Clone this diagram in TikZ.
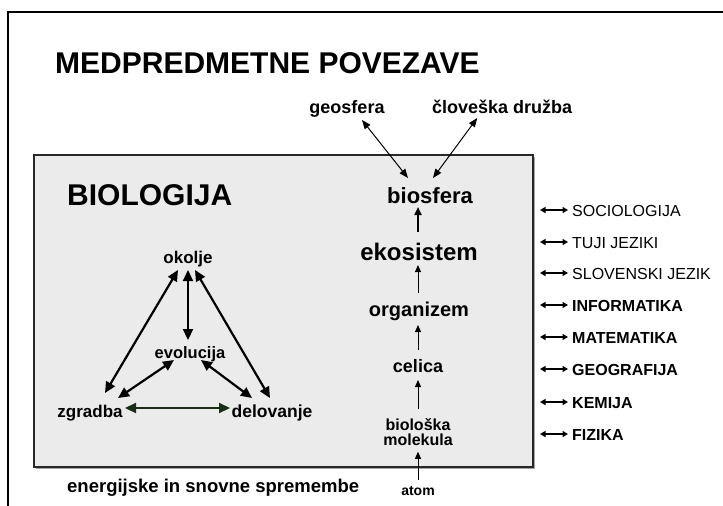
\documentclass[tikz,border=0pt]{standalone}
\usepackage{fontspec}
\setmainfont{Liberation Sans}
\usetikzlibrary{arrows.meta}
\definecolor{boxfill}{RGB}{235,235,235}
\definecolor{boxline}{RGB}{40,40,40}
\definecolor{darkgreen}{RGB}{25,45,25}
\begin{document}
\begin{tikzpicture}[x=1pt,y=-1pt,
  txt/.style={inner sep=0pt, anchor=base, font=\bfseries\fontsize{#1}{#1}\selectfont},
  rtxt/.style={inner sep=0pt, anchor=base west, font=#1\fontsize{16}{16}\selectfont},
  tri/.style={line width=2.2pt, {Triangle[length=11pt,width=10pt]}-{Triangle[length=11pt,width=10pt]}},
  thickup/.style={line width=2pt, -{Triangle[length=8pt,width=7pt]}},
  thinup/.style={line width=1pt, -{Triangle[length=7pt,width=6pt]}},
  thinboth/.style={line width=1pt, {Triangle[length=9pt,width=7pt]}-{Triangle[length=9pt,width=7pt]}},
  side/.style={line width=1.3pt, {Triangle[length=5.5pt,width=6pt]}-{Triangle[length=5.5pt,width=6pt]}}]
\useasboundingbox (0,0) rectangle (723,506);
% outer frame
\draw[line width=2.5pt] (8,506) -- (8,12) -- (723,12);
% title
\node[txt=30, anchor=base west] (title) at (55,73) {MEDPREDMETNE POVEZAVE};
% gray box
\fill[gray!70] (36,157) rectangle (535,469);
\draw[line width=1.8pt, draw=boxline, fill=boxfill] (34,155) rectangle (533,467);
\node[txt=30, anchor=base west] (biol) at (67,205) {BIOLOGIJA};
% triangle
\node[txt=17] (okolje) at (188,263) {okolje};
\node[txt=16.5] (evol) at (190,358) {evolucija};
\node[txt=17] (zgr) at (90,417) {zgradba};
\node[txt=17.5] (del) at (272,417) {delovanje};
\draw[tri] ([shift={(-10,7)}]okolje.base) -- ([shift={(15,-24)}]zgr.base);
\draw[tri] ([shift={(7,7)}]okolje.base) -- ([shift={(-2,-19)}]del.base);
\draw[tri] ([shift={(0,7)}]okolje.base) -- ([shift={(-2,-18)}]evol.base);
\draw[tri] ([shift={(-16,2)}]evol.base) -- ([shift={(28,-19)}]zgr.base);
\draw[tri] ([shift={(11,2)}]evol.base) -- ([shift={(-20,-19)}]del.base);
\draw[tri, draw=darkgreen] ([shift={(35,-9)}]zgr.base) -- ([shift={(-42,-9)}]del.base);
% chain
\node[txt=18] (geo) at (347,113) {geosfera};
\node[txt=18, anchor=base west] (clov) at (432,113) {človeška družba};
\node[txt=22] (bio) at (430,203) {biosfera};
\node[txt=24] (eko) at (419,260) {ekosistem};
\node[txt=20] (org) at (419,316) {organizem};
\node[txt=18] (cel) at (418,372) {celica};
\node[inner sep=0pt, align=center, font=\bfseries\fontsize{16}{15}\selectfont] (mol) at (418,432) {biološka\\molekula};
\node[txt=14] (atom) at (418,495) {atom};
\node[txt=18.5, anchor=base west] (energ) at (67,492) {energijske in snovne spremembe};
\draw[thinboth] ([shift={(15,7)}]geo.base) -- ([shift={(-22,-25)}]bio.base);
\draw[thinboth] ([shift={(-25,5)}]clov.base) -- ([shift={(3,-25)}]bio.base);
\draw[thickup] ([shift={(-1,-28)}]eko.base) -- ([shift={(-12,4)}]bio.base);
\draw[thinup] ([shift={(-1,-23)}]org.base) -- ([shift={(-1,5)}]eko.base);
\draw[thinup] ([shift={(0,-22)}]cel.base) -- ([shift={(-1,9)}]org.base);
\draw[thinup] ([shift={(0,-9)}]mol.north) -- ([shift={(0,8)}]cel.base);
\draw[thinup] ([shift={(0,-15)}]atom.base) -- ([shift={(0,6)}]mol.south);
% right column
\foreach \nm/\yy/\tx/\wt in {soc/210/SOCIOLOGIJA/\mdseries, tuj/242/TUJI JEZIKI/\mdseries, slo/273/SLOVENSKI JEZIK/\mdseries, inf/305/INFORMATIKA/\bfseries, mat/337/MATEMATIKA/\bfseries, geog/369/GEOGRAFIJA/\bfseries, kem/402/KEMIJA/\bfseries, fiz/434/FIZIKA/\bfseries}{
  \node[rtxt=\wt] (\nm) at (572,\yy+6) {\tx};
  \coordinate (\nm a) at (540,\yy);
  \coordinate (\nm b) at (568,\yy);
  \draw[side] (\nm a) -- (\nm b);
}
\end{tikzpicture}
\end{document}
